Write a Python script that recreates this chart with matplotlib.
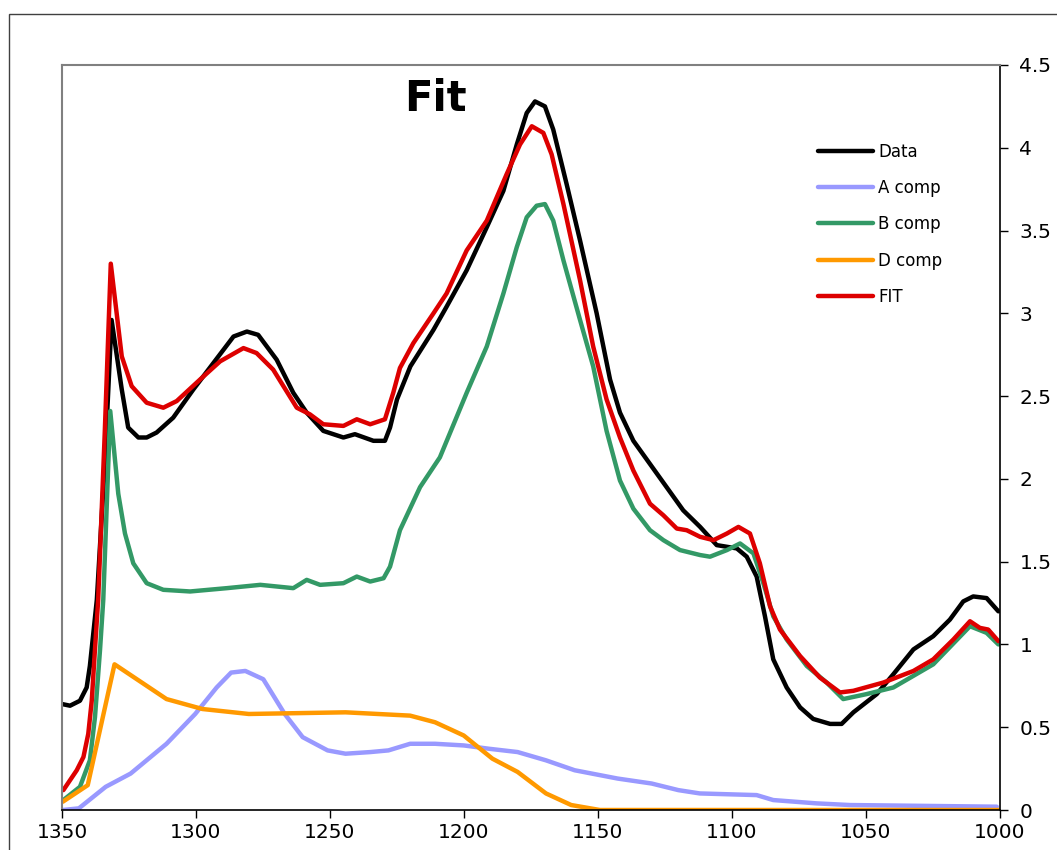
import matplotlib
matplotlib.use('Agg')
import matplotlib.pyplot as plt
from matplotlib.patches import Rectangle

# wavenumber grids and values
x_data = [1350, 1347, 1343.3, 1340.8, 1339.6, 1338.3, 1337, 1334, 1331.5, 1327.7, 1325.3, 1321.5,
          1318.4, 1314.7, 1308.5, 1301, 1293.5, 1286, 1281, 1276.8, 1269.9, 1263.7, 1258.7, 1252.5,
          1245, 1240.7, 1233.8, 1229.5, 1227.6, 1225, 1220, 1211.4, 1206.5, 1199, 1191.5, 1185.3,
          1180.3, 1176.6, 1173.5, 1169.8, 1166.7, 1161.7, 1156.7, 1150.5, 1145.5, 1141.8, 1136.8,
          1130.6, 1124.4, 1118.2, 1111.9, 1105.7, 1098.2, 1094.5, 1090.8, 1087.7, 1084.6, 1079.6,
          1074.6, 1069.7, 1063.4, 1059.1, 1054.7, 1046, 1039.8, 1032.3, 1024.9, 1018.7, 1013.7,
          1010, 1005, 1000.6]
y_data = [0.64, 0.63, 0.66, 0.74, 0.87, 1.07, 1.27, 2.1, 2.96, 2.54, 2.31, 2.25,
          2.25, 2.28, 2.37, 2.54, 2.70, 2.86, 2.89, 2.87, 2.72, 2.52, 2.40, 2.29,
          2.25, 2.27, 2.23, 2.23, 2.31, 2.48, 2.68, 2.90, 3.04, 3.26, 3.52, 3.74,
          4.02, 4.21, 4.28, 4.25, 4.11, 3.78, 3.44, 3.00, 2.60, 2.40, 2.23,
          2.09, 1.95, 1.81, 1.71, 1.60, 1.58, 1.53, 1.41, 1.17, 0.91, 0.74,
          0.62, 0.55, 0.52, 0.52, 0.59, 0.70, 0.82, 0.97, 1.05, 1.15, 1.26,
          1.29, 1.28, 1.20]

x_fit = [1349.5, 1344.5, 1342, 1340.2, 1338.9, 1337.7, 1336.5, 1334, 1331.8, 1327.7, 1324, 1318.4,
         1312.2, 1307.2, 1298.5, 1291, 1282.3, 1277.4, 1271.2, 1262.4, 1257.5, 1252.5, 1245, 1240,
         1235, 1229.5, 1226.4, 1223.9, 1218.9, 1211.4, 1206.5, 1199, 1191.5, 1184.1, 1179.1, 1174.7,
         1170.4, 1167.3, 1162.9, 1156.7, 1151.8, 1146.8, 1141.8, 1136.8, 1130.6, 1125.6, 1120.6,
         1116.9, 1111.9, 1106.9, 1101.9, 1097.6, 1093.3, 1089.6, 1085.8, 1082.1, 1074.6, 1067.2,
         1059.7, 1054.7, 1043.5, 1032.3, 1024.9, 1017.4, 1011.2, 1007.5, 1004.4, 1000.6]
y_fit = [0.12, 0.24, 0.32, 0.46, 0.66, 0.97, 1.27, 2.3, 3.30, 2.74, 2.56, 2.46,
         2.43, 2.47, 2.60, 2.71, 2.79, 2.76, 2.66, 2.43, 2.39, 2.33, 2.32, 2.36,
         2.33, 2.36, 2.52, 2.67, 2.82, 3.00, 3.12, 3.38, 3.56, 3.84, 4.02, 4.13,
         4.09, 3.96, 3.66, 3.20, 2.80, 2.48, 2.25, 2.05, 1.85, 1.78, 1.70,
         1.69, 1.65, 1.63, 1.67, 1.71, 1.67, 1.49, 1.23, 1.09, 0.93, 0.80,
         0.71, 0.72, 0.77, 0.84, 0.91, 1.03, 1.14, 1.10, 1.09, 1.02]

x_b = [1349.5, 1343.3, 1339.6, 1337.7, 1335.8, 1334.6, 1332, 1329, 1326.5, 1323.4, 1318.4, 1312.2,
       1302.2, 1288.5, 1276, 1263.7, 1258.7, 1253.7, 1245, 1240, 1235, 1230, 1227.6, 1223.9,
       1216.4, 1209, 1199, 1191.5, 1185.3, 1180.3, 1176.6, 1172.9, 1169.8, 1166.7, 1162.9, 1156.7,
       1151.8, 1146.8, 1141.8, 1136.8, 1130.6, 1125.6, 1119.4, 1111.9, 1108.2, 1101.9, 1097,
       1092, 1088.3, 1084.6, 1079.6, 1072.1, 1064.7, 1058.5, 1049.8, 1039.8, 1024.9, 1011.2,
       1005, 1000.6]
y_b = [0.06, 0.14, 0.30, 0.56, 0.97, 1.27, 2.41, 1.91, 1.67, 1.49, 1.37, 1.33,
       1.32, 1.34, 1.36, 1.34, 1.39, 1.36, 1.37, 1.41, 1.38, 1.40, 1.47, 1.69,
       1.95, 2.13, 2.52, 2.80, 3.12, 3.40, 3.58, 3.65, 3.66, 3.56, 3.32, 2.96,
       2.68, 2.29, 1.99, 1.82, 1.69, 1.63, 1.57, 1.54, 1.53, 1.57, 1.61,
       1.55, 1.37, 1.17, 1.03, 0.87, 0.77, 0.67, 0.70, 0.74, 0.88, 1.11,
       1.07, 1.00]

x_a = [1349.7, 1343.7, 1333.7, 1324.4, 1311, 1300.3, 1292.3, 1286.9, 1281.6, 1274.9, 1266.9,
       1260.2, 1250.9, 1244.2, 1234.9, 1228.2, 1220.1, 1210.8, 1200.1, 1190.7, 1180, 1169.4,
       1158.7, 1142.7, 1130, 1120, 1112, 1090.8, 1084.6, 1068.4, 1056, 1001.2]
y_a = [0.0, 0.01, 0.14, 0.22, 0.40, 0.58, 0.74, 0.83, 0.84, 0.79, 0.58,
       0.44, 0.36, 0.34, 0.35, 0.36, 0.40, 0.40, 0.39, 0.37, 0.35, 0.30,
       0.24, 0.19, 0.16, 0.12, 0.10, 0.09, 0.06, 0.04, 0.03, 0.02]

x_d = [1349.7, 1340.4, 1330.4, 1311, 1297.6, 1280.3, 1244.2, 1220.1, 1210.8, 1200.1, 1189.4,
       1180, 1169.4, 1160, 1149.3, 1000]
y_d = [0.05, 0.15, 0.88, 0.67, 0.61, 0.58, 0.59, 0.57, 0.53, 0.45, 0.31,
       0.23, 0.10, 0.03, 0.0, 0.0]

x_ticks = [1350, 1300, 1250, 1200, 1150, 1100, 1050, 1000]
y_ticks = [0, 0.5, 1, 1.5, 2, 2.5, 3, 3.5, 4, 4.5]
y_labels = ['0', '0.5', '1', '1.5', '2', '2.5', '3', '3.5', '4', '4.5']

fig = plt.figure(figsize=(10.57, 8.5), dpi=100)
fig.patches.append(Rectangle((9 / 1057, -0.1), 1.2, 1 - 14 / 850 + 0.1, transform=fig.transFigure,
                             fill=False, edgecolor='#404040', linewidth=1.0))
ax = fig.add_axes([62 / 1057, 40 / 850, 938 / 1057, 745 / 850])

lw = 3.2
ax.plot(x_data, y_data, color='black', lw=lw, label='Data', solid_capstyle='round')
ax.plot(x_a, y_a, color='#9999FF', lw=lw, label='A comp', solid_capstyle='round')
ax.plot(x_b, y_b, color='#339966', lw=lw, label='B comp', solid_capstyle='round')
ax.plot(x_d, y_d, color='#FF9900', lw=lw, label='D comp', solid_capstyle='round')
ax.plot(x_fit, y_fit, color='#DD0000', lw=lw, label='FIT', solid_capstyle='round')

ax.set_xlim(1350, 1000)
ax.set_ylim(0, 4.5)
ax.set_xticks(x_ticks)
ax.set_yticks(y_ticks)
ax.set_yticklabels(y_labels)
ax.yaxis.tick_right()
ax.tick_params(axis='both', labelsize=14.5, direction='out', length=6, width=1)
ax.tick_params(axis='y', pad=8)

ax.spines['left'].set_color('#808080')
ax.spines['top'].set_color('#808080')
ax.spines['left'].set_linewidth(1.5)
ax.spines['top'].set_linewidth(1.5)
ax.spines['right'].set_linewidth(1.2)
ax.spines['bottom'].set_linewidth(1.2)

ax.text(0.398, 0.982, 'Fit', transform=ax.transAxes, fontsize=30, fontweight='bold',
        ha='center', va='top')

ax.legend(loc='upper left', bbox_to_anchor=(0.79, 0.916), frameon=False, fontsize=12,
          handlelength=3.3, handletextpad=0.3, labelspacing=1.1)

fig.savefig('out.png', dpi=100)
